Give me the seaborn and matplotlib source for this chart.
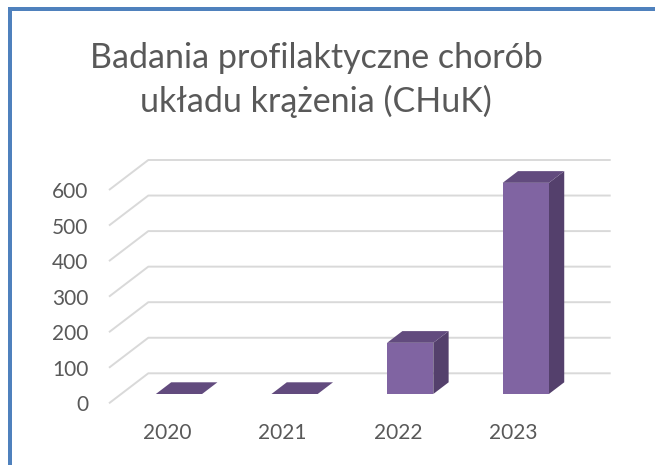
import matplotlib
matplotlib.use("Agg")
import matplotlib.pyplot as plt
from matplotlib.patches import Polygon, Rectangle
import seaborn as sns
import pandas as pd

# ---- data ----
years = ["2020", "2021", "2022", "2023"]
values = [0, 0, 144, 594]
yticks = [0, 100, 200, 300, 400, 500, 600]
title = "Badania profilaktyczne chorób\nukładu krążenia (CHuK)"

# ---- style ----
sns.set_style("white")
plt.rcParams["font.family"] = ["Lato", "DejaVu Sans"]

FRONT = "#8064A2"
TOP = "#624B7E"
SIDE = "#54406C"
GRID = "#D9D9D9"
TXT = "#595959"
BLUE = "#4F81BD"

W, H = 655, 465
fig = plt.figure(figsize=(W / 100, H / 100), dpi=100)
fig.patch.set_facecolor("white")

# axes: front plane from x=109px to back-right edge 610.7px; y 0 at 403.3px, top back grid at 160px
left, right, bottom, top = 109, 610.7, 403.3, 160
ax = fig.add_axes([left / W, (H - bottom) / H, (right - left) / W, (bottom - top) / H])

df = pd.DataFrame({"rok": years, "liczba": values})
sns.barplot(data=df, x="rok", y="liczba", color=FRONT, width=0.4, saturation=1,
            errorbar=None, ax=ax, zorder=3, linewidth=0)

# depth of the 3D floor (in data units) and bar depth positions
DX = 0.34
DY = 84.4
f0, f1 = 0.31, 0.70
ddx, ddy = (f1 - f0) * DX, (f1 - f0) * DY

for p in list(ax.patches):
    x0 = p.get_x() + f0 * DX
    y0 = f0 * DY
    w = p.get_width()
    h = p.get_height()
    p.set_x(x0)
    p.set_y(y0)
    side = Polygon([(x0 + w, y0), (x0 + w + ddx, y0 + ddy),
                    (x0 + w + ddx, y0 + h + ddy), (x0 + w, y0 + h)],
                   closed=True, facecolor=SIDE, edgecolor="none", zorder=2.9, clip_on=False)
    topf = Polygon([(x0, y0 + h), (x0 + w, y0 + h),
                    (x0 + w + ddx, y0 + h + ddy), (x0 + ddx, y0 + h + ddy)],
                   closed=True, facecolor=TOP, edgecolor="none", zorder=2.95, clip_on=False)
    ax.add_patch(side)
    ax.add_patch(topf)

ncat = len(years)
xmin, xmax = -0.5, ncat - 0.5 + DX
for v in yticks:
    ax.plot([-0.5, -0.5 + DX, xmax], [v, v + DY, v + DY], color=GRID, lw=1.4,
            zorder=1, clip_on=False, solid_capstyle="butt")

ax.set_xlim(xmin, xmax)
ax.set_ylim(0, yticks[-1] + DY)
ax.set_yticks(yticks)
ax.set_yticklabels([str(v) for v in yticks])
ax.set_xlabel("")
ax.set_ylabel("")
for s in ax.spines.values():
    s.set_visible(False)
ax.tick_params(axis="y", length=0, pad=15, labelsize=15, labelcolor=TXT)
ax.tick_params(axis="x", length=0, pad=14, labelsize=15, labelcolor=TXT)
ax.grid(False)
ax.set_facecolor("none")

fig.text(316 / W, 1 - 80 / H, title, ha="center", va="center", fontsize=24.5,
         color=TXT, linespacing=1.38)

# blue border (top and left)
fig.add_artist(Rectangle((8 / W, 0), 4 / W, (H - 7) / H, transform=fig.transFigure,
                         facecolor=BLUE, edgecolor="none"))
fig.add_artist(Rectangle((8 / W, (H - 11) / H), 1 - 8 / W, 4 / H, transform=fig.transFigure,
                         facecolor=BLUE, edgecolor="none"))

fig.savefig("out.png", dpi=100, facecolor="white")
